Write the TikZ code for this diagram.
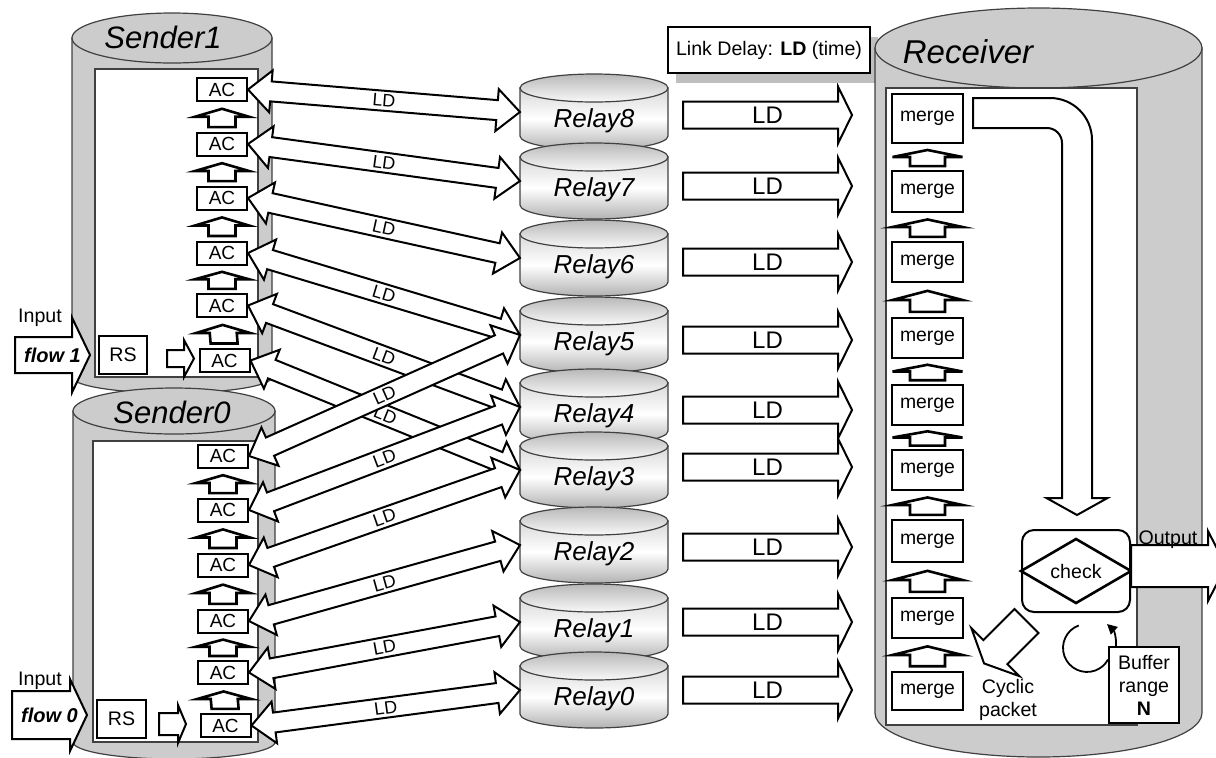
\documentclass[tikz,border=0pt]{standalone}
\usepackage{fontspec}
\setmainfont{Liberation Sans}
\usetikzlibrary{calc,shadows,arrows.meta}

\newcommand{\bigldfont}{\fontsize{12}{14}\selectfont}
\newcommand{\flowfont}{\fontsize{10}{12}\selectfont\bfseries\itshape}

% double block arrow between two named points, label along it
\newcommand{\ldlink}[2]{%
  \path let \p1=(#1), \p2=(#2),
        \n1={atan2(\y2-\y1,\x2-\x1)}, \n2={veclen(\x2-\x1,\y2-\y1)} in
        \pgfextra{\pgfmathsetmacro\lkangraw{\n1}\pgfmathsetmacro\lklenraw{\n2}%
                  \xdef\lkang{\lkangraw}\xdef\lklen{\lklenraw pt}};
  \begin{scope}[shift={(#1)}, rotate=\lkang]
    \draw[blkline] (0pt,0pt) -- (11.5pt,10.5pt) -- (11.5pt,5pt) -- (\lklen-11.5pt,5pt)
      -- (\lklen-11.5pt,10.5pt) -- (\lklen,0pt) -- (\lklen-11.5pt,-10.5pt)
      -- (\lklen-11.5pt,-5pt) -- (11.5pt,-5pt) -- (11.5pt,-10.5pt) -- cycle;
    \node[ldsmall, transform shape] at (\lklen/2,0pt) {LD};
  \end{scope}}

% small up arrow from lower box #2 to upper box #1
\newcommand{\stackarrow}[4]{%
  \draw[stackup] ($(#1.south)!0.23!(#2.north)$)
    -- ($(#1.south)!0.5!(#2.north)+(#3,0)$) -- ($(#1.south)!0.5!(#2.north)+(#4,0)$)
    -- ($(#1.south)!0.85!(#2.north)+(#4,0)$) -- ($(#1.south)!0.85!(#2.north)+(-#4,0)$)
    -- ($(#1.south)!0.5!(#2.north)+(-#4,0)$) -- ($(#1.south)!0.5!(#2.north)+(-#3,0)$) -- cycle;}

% horizontal block arrow: tail centre, length, half shaft, half head, head length, label
\newcommand{\hblk}[6]{%
  \draw[blkline] (#1) ++(0,-#3) -- ++(#2-#5,0) -- ++(0,#3-#4) -- ++(#5,#4)
    -- ++(-#5,#4) -- ++(0,#3-#4) -- ++(#5-#2,0) -- cycle;
  \path (#1) ++(#2/2,0) node {#6};}

\tikzset{
  cylgray/.style={draw=black!75, line width=0.6pt, fill=gray!40},
  innerbox/.style={draw=black!75, line width=0.6pt, fill=white},
  blkline/.style={draw=black, line width=1pt, fill=white},
  stackup/.style={draw=black, line width=1.3pt, fill=white},
  acbox/.style={draw, line width=1pt, fill=white, minimum width=25pt, minimum height=11.5pt,
    inner sep=0pt, font=\fontsize{9.5}{11}\selectfont},
  mergebox/.style={draw, line width=1pt, fill=white, minimum width=35.5pt, minimum height=20pt,
    inner sep=0pt, font=\fontsize{9.7}{11}\selectfont},
  smalltxt/.style={font=\fontsize{9.8}{11.5}\selectfont},
  sendlbl/.style={font=\fontsize{15.5}{18}\selectfont\itshape},
  relaylbl/.style={font=\fontsize{13}{15}\selectfont\itshape},
  ldsmall/.style={font=\fontsize{9}{10}\selectfont, inner sep=0pt},
}

\begin{document}
\begin{tikzpicture}[x=0.5pt,y=-0.5pt]
\useasboundingbox (0,0) rectangle (1216,757);

% senders
\draw[cylgray] (72,38) -- (72,377) arc[start angle=180, end angle=360, x radius=50pt, y radius=8pt]
  -- (272,38) -- cycle;
\draw[cylgray] (172,38) ellipse[x radius=50pt, y radius=12.5pt];
\draw[innerbox] (95,69) rectangle (258,377);
\node[sendlbl] (snd1) at (163,37) {Sender1};

\draw[cylgray] (73,411) -- (73,742) arc[start angle=180, end angle=360, x radius=50.5pt, y radius=8.5pt]
  -- (275,411) -- cycle;
\draw[cylgray] (174,411) ellipse[x radius=50.5pt, y radius=11.5pt];
\draw[innerbox] (93,441) rectangle (258,742);
\node[sendlbl] (snd0) at (172,412) {Sender0};

% AC stacks
\foreach \i/\x/\y in {1/222/89.5, 2/222/144, 3/222/198, 4/222/253, 5/222/305.5, 6/224.5/360.5}
  \node[acbox] (s1ac\i) at (\x,\y) {AC};
\foreach \i/\x/\y in {1/223/456, 2/223/510, 3/223/565, 4/223/621, 5/223/672.5, 6/225.5/725.5}
  \node[acbox] (s0ac\i) at (\x,\y) {AC};
\foreach \i [evaluate=\i as \j using int(\i+1)] in {1,...,5} {
  \stackarrow{s1ac\i}{s1ac\j}{27}{13.5}
  \stackarrow{s0ac\i}{s0ac\j}{27}{13.5}
}

% inputs
\node[smalltxt, draw, line width=1pt, fill=white, minimum width=24pt, minimum height=19pt, inner sep=0pt] (rs1) at (123,355) {RS};
\node[smalltxt, draw, line width=1pt, fill=white, minimum width=24.5pt, minimum height=19pt, inner sep=0pt] (rs0) at (121.5,719) {RS};
\hblk{15,355}{75}{18}{37.5}{18}{\flowfont flow 1}
\hblk{12,715}{75}{24}{36}{17}{\flowfont flow 0}
\node[smalltxt] (in1) at (40,318) {Input};
\node[smalltxt] (in0) at (40,681) {Input};
\hblk{$(rs1.east)+(19,3.5)$}{27}{8.5}{18.5}{10}{}
\hblk{$(rs0.east)+(12,5)$}{27}{11}{19}{8}{}

% relays
\foreach \k/\ym in {8/112, 7/181, 6/258, 5/335, 4/407, 3/470, 2/545, 1/622, 0/690} {
  \shadedraw[draw=black!75, line width=0.6pt, top color=gray!30, bottom color=gray!60, middle color=white]
    (520,\ym-24) -- (520,\ym+24) arc[start angle=180, end angle=360, x radius=37pt, y radius=7pt]
    -- (668,\ym-24) -- cycle;
  \shadedraw[draw=black!75, line width=0.6pt, top color=gray!55, bottom color=gray!5]
    (594,\ym-24) ellipse[x radius=37pt, y radius=7pt];
  \coordinate (r\k) at (520,\ym);
  \node[relaylbl] (rl\k) at (594,\ym+9) {Relay\k};
}

% links sender -> relay
\foreach \a/\b in {1/8, 2/7, 3/6, 4/5, 5/4, 6/3} {
  \ldlink{s1ac\a.east}{r\b}
}
\foreach \a/\b in {1/5, 2/4, 3/3, 4/2, 5/1, 6/0} {
  \ldlink{s0ac\a.east}{r\b}
}

% relay -> receiver
\foreach \y in {115, 186, 262, 340, 410, 467, 547, 622, 690} {
  \hblk{683,\y}{169}{13.5}{28.5}{14}{\bigldfont LD}
}

% legend
\node[smalltxt, draw, line width=0.6pt, fill=white, minimum width=101pt, minimum height=23pt,
  drop shadow={shadow xshift=4pt, shadow yshift=-5pt, fill=gray!50, opacity=1}]
  (legend) at (769,50) {Link Delay: \textbf{LD} (time)};

% receiver
\draw[cylgray] (875,48) -- (875,713) arc[start angle=180, end angle=360, x radius=81.75pt, y radius=22pt]
  -- (1202,48) -- cycle;
\draw[cylgray] (1038.5,48) ellipse[x radius=81.75pt, y radius=20pt];
\draw[innerbox] (886,88) rectangle (1137,725);
\node[font=\fontsize{16.5}{19}\selectfont\itshape] (rcv) at (968,52) {Receiver};

\foreach \i/\y/\h in {1/118.5/49, 2/191.5/41, 3/262/40, 4/338/40, 5/405/40, 6/470/40, 7/541/42, 8/618/40, 9/691/38}
  \node[mergebox, minimum height=\h*0.5pt] (m\i) at (927.5,\y) {merge};
\foreach \i [evaluate=\i as \j using int(\i+1)] in {1,...,8} {
  \stackarrow{m\i}{m\j}{35}{17.5}
}

% bent arrow to check
\draw[blkline] (973,98) -- (1050,98) arc[start angle=90, end angle=0, radius=21pt]
  -- (1092,498) -- (1107.5,498) -- (1077,515) -- (1046.5,498) -- (1062,498) -- (1062,143)
  arc[start angle=0, end angle=90, radius=7.5pt] -- (973,128) -- cycle;

\node[smalltxt, draw, line width=1pt, rounded corners=6pt, fill=white, minimum width=54pt,
  minimum height=41pt] (chk) at (1076,571) {check};
\draw[line width=1.3pt] (chk.west) -- ($(chk.north)+(0,10)$) -- (chk.east) -- ($(chk.south)+(0,-10)$) -- cycle;

\hblk{$(chk.east)+(0,-5)$}{95}{21}{35}{18}{}
\node[smalltxt] (outlbl) at (1168,540) {Output};

\begin{scope}[shift={($(chk.south west)+(5.5,8)$)}, rotate=225]
  \draw[blkline] (0pt,8.5pt) -- (22pt,8.5pt) -- (22pt,17pt) -- (30pt,0pt) -- (22pt,-17pt)
    -- (22pt,-8.5pt) -- (0pt,-8.5pt) -- cycle;
\end{scope}
\node[smalltxt, align=center] (cyc) at (1008,700) {Cyclic\\packet};

\node[smalltxt, draw, line width=1pt, fill=white, minimum width=35pt, minimum height=38pt,
  align=center, inner sep=1pt] (buf) at (1144,685) {Buffer\\range\\\textbf{N}};
\draw[line width=0.9pt] (1078.8,625.4) arc[start angle=110, end angle=331, radius=12pt];
\draw[line width=0.9pt, -{Triangle[length=5pt, width=5pt]}] ($(buf.north west)+(8,0)$)
  to[bend right=25] ($(chk.south east)+(-24,11)$);
\end{tikzpicture}
\end{document}
